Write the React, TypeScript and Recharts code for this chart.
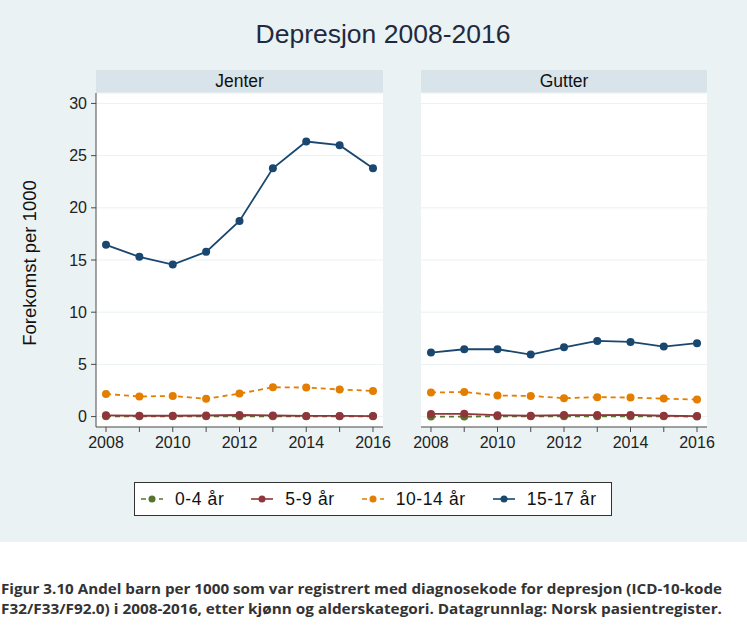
import { LineChart, Line, XAxis, YAxis, CartesianGrid } from 'recharts'

const years = [2008, 2009, 2010, 2011, 2012, 2013, 2014, 2015, 2016]
const yTicks = [0, 5, 10, 15, 20, 25, 30]

const seriesKeys = ['a0_4', 'a5_9', 'a10_14', 'a15_17']
const seriesNames = ['0-4 år', '5-9 år', '10-14 år', '15-17 år']
const seriesColors = ['#55752f', '#90353b', '#e37e00', '#1a476f']
const seriesDash = ['5 4', '', '5 4', '']

// Jenter
const jenter0_4 = [0.02, 0.02, 0.02, 0.02, 0.03, 0.02, 0.02, 0.02, 0.02]
const jenter5_9 = [0.12, 0.08, 0.08, 0.1, 0.15, 0.1, 0.06, 0.06, 0.05]
const jenter10_14 = [2.17, 1.92, 1.98, 1.7, 2.2, 2.81, 2.78, 2.59, 2.46]
const jenter15_17 = [16.45, 15.3, 14.56, 15.78, 18.74, 23.79, 26.35, 26.0, 23.79]

// Gutter
const gutter0_4 = [0.0, 0.0, 0.02, 0.02, 0.02, 0.02, 0.02, 0.02, 0.0]
const gutter5_9 = [0.25, 0.26, 0.13, 0.08, 0.14, 0.14, 0.16, 0.08, 0.05]
const gutter10_14 = [2.3, 2.36, 2.01, 1.98, 1.76, 1.86, 1.82, 1.72, 1.63]
const gutter15_17 = [6.13, 6.45, 6.45, 5.94, 6.64, 7.25, 7.15, 6.71, 7.03]

const buildRows = (cols: number[][]) =>
  years.map((year, i) => {
    const row: any = { year }
    seriesKeys.forEach((k, j) => { row[k] = cols[j][i] })
    return row
  })

const jenterRows = buildRows([jenter0_4, jenter5_9, jenter10_14, jenter15_17])
const gutterRows = buildRows([gutter0_4, gutter5_9, gutter10_14, gutter15_17])

const FONT = '"Liberation Sans", Arial, sans-serif'
const BG = '#eaf2f3'
const STRIP = '#d9e4ea'
const AXIS = '#4a4a4a'

// rotated y-axis title, placed from the axis viewBox
const renderYLabel = ({ viewBox }: any) => {
  const cx = viewBox.x + 29
  const cy = viewBox.y + viewBox.height / 2 + 3
  return (
    <text x={cx} y={cy} transform={`rotate(-90 ${cx} ${cy})`} textAnchor="middle"
      dominantBaseline="central" fontSize={18.5} fill="#111">
      Forekomst per 1000
    </text>
  )
}

function Panel({ rows, left, width, margin, showY }: any) {
  return (
    <div style={{ position: 'absolute', left, top: 60 }}>
      <LineChart width={width} height={400} data={rows} margin={margin}>
        <CartesianGrid vertical={false} stroke={BG} fill="#ffffff" />
        <XAxis dataKey="year" type="number" domain={[2007.7, 2016.3]} ticks={years} interval={0}
          allowDataOverflow
          tickFormatter={(v: number) => (v % 2 === 0 ? String(v) : '')}
          tick={{ fill: '#222', fontSize: 16 }}
          axisLine={{ stroke: AXIS }} tickLine={{ stroke: AXIS }} tickSize={5} tickMargin={5} />
        <YAxis type="number" domain={[-1, 31]} ticks={yTicks} interval={0} allowDataOverflow
          hide={!showY} width={96}
          tick={{ fill: '#222', fontSize: 16 }}
          axisLine={{ stroke: AXIS }} tickLine={{ stroke: AXIS }} tickSize={5} tickMargin={4}
          label={showY ? { content: renderYLabel } : undefined} />
        {seriesKeys.map((k, i) => (
          <Line key={k} type="linear" dataKey={k} name={seriesNames[i]}
            stroke={seriesColors[i]} strokeWidth={1.8} strokeDasharray={seriesDash[i] || undefined}
            dot={{ r: 4, fill: seriesColors[i], stroke: seriesColors[i], strokeWidth: 0 }}
            activeDot={false} isAnimationActive={false} />
        ))}
      </LineChart>
    </div>
  )
}

function Strip({ label, left, width }: any) {
  return (
    <div style={{ position: 'absolute', left, top: 70, width, height: 23, background: STRIP,
      textAlign: 'center', fontSize: 17.5, lineHeight: '23px', color: '#111' }}>
      {label}
    </div>
  )
}

function LegendIcon({ color, dash }: any) {
  return (
    <svg width={22} height={10} style={{ display: 'block' }}>
      <line x1={0} x2={22} y1={5} y2={5} stroke={color} strokeWidth={1.6} strokeDasharray={dash || undefined} />
      <circle cx={11} cy={5} r={3.5} fill={color} />
    </svg>
  )
}

export default function App() {
  return (
    <div style={{ position: 'absolute', left: 0, top: 0, width: 747, height: 632, background: '#fff', fontFamily: FONT }}>
      <div style={{ position: 'absolute', left: 0, top: 0, width: 747, height: 542, background: BG }} />

      <div style={{ position: 'absolute', left: 0, top: 21, width: 766, textAlign: 'center',
        fontSize: 26.5, lineHeight: '26px', color: '#1f2a40' }}>
        Depresjon 2008-2016
      </div>

      <Strip label="Jenter" left={96} width={287} />
      <Strip label="Gutter" left={421} width={286} />

      <Panel rows={jenterRows} left={0} width={400} showY
        margin={{ top: 33, right: 17, left: 0, bottom: 3 }} />
      <Panel rows={gutterRows} left={400} width={347} showY={false}
        margin={{ top: 33, right: 40, left: 21, bottom: 3 }} />

      <div style={{ position: 'absolute', left: 134, top: 482, width: 478, height: 34, boxSizing: 'border-box',
        border: '1px solid #333', background: '#fff', display: 'flex', alignItems: 'center',
        paddingLeft: 6, gap: 27 }}>
        {seriesNames.map((n, i) => (
          <div key={n} style={{ display: 'flex', alignItems: 'center', gap: 12 }}>
            <LegendIcon color={seriesColors[i]} dash={seriesDash[i]} />
            <span style={{ fontSize: 17.5, letterSpacing: 0.6, color: '#111' }}>{n}</span>
          </div>
        ))}
      </div>

      <svg style={{ position: 'absolute', left: 0, top: 570 }} width={747} height={60}>
        <text x={1} y={24} textLength={721} lengthAdjust="spacingAndGlyphs"
          style={{ fontFamily: '"Open Sans", sans-serif', fontWeight: 700, fontSize: 14.5, fill: '#333' }}>
          Figur 3.10 Andel barn per 1000 som var registrert med diagnosekode for depresjon (ICD-10-kode
        </text>
        <text x={1} y={43.5} textLength={721} lengthAdjust="spacingAndGlyphs"
          style={{ fontFamily: '"Open Sans", sans-serif', fontWeight: 700, fontSize: 14.5, fill: '#333' }}>
          F32/F33/F92.0) i 2008-2016, etter kjønn og alderskategori. Datagrunnlag: Norsk pasientregister.
        </text>
      </svg>
    </div>
  )
}
